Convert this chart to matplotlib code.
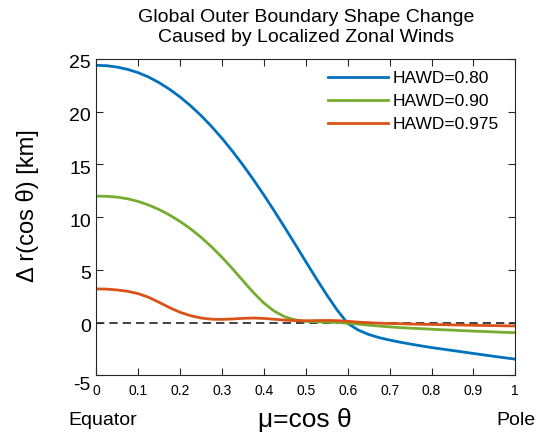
import matplotlib
matplotlib.use("Agg")
import matplotlib.pyplot as plt
import matplotlib.transforms as mtransforms
import numpy as np

plt.rcParams["font.family"] = ["Liberation Sans", "DejaVu Sans"]
plt.rcParams["axes.unicode_minus"] = False

# mu = cos(theta), sampled every 0.025 from equator (0) to pole (1)
mu = np.linspace(0.0, 1.0, 41)

hawd_labels = ["HAWD=0.80", "HAWD=0.90", "HAWD=0.975"]

dr_080 = [
    24.40, 24.36, 24.23, 24.01, 23.70, 23.28, 22.75, 22.12, 21.39, 20.56,
    19.63, 18.60, 17.47, 16.25, 14.94, 13.55, 12.09, 10.57, 9.00, 7.40,
    5.78, 4.18, 2.63, 1.18, -0.07, -0.70, -1.12, -1.42, -1.65, -1.85,
    -2.03, -2.20, -2.36, -2.50, -2.64, -2.78, -2.92, -3.06, -3.20, -3.33,
    -3.46,
]
dr_090 = [
    12.00, 11.98, 11.90, 11.74, 11.49, 11.15, 10.72, 10.20, 9.59, 8.89,
    8.09, 7.19, 6.19, 5.11, 3.97, 2.85, 1.85, 1.08, 0.55, 0.26,
    0.13, 0.08, 0.05, 0.01, -0.05, -0.14, -0.24, -0.32, -0.40, -0.47,
    -0.52, -0.57, -0.62, -0.67, -0.71, -0.76, -0.80, -0.84, -0.88, -0.92,
    -0.95,
]
dr_0975 = [
    3.20, 3.18, 3.10, 2.97, 2.75, 2.40, 1.92, 1.42, 0.98, 0.66,
    0.44, 0.33, 0.31, 0.35, 0.41, 0.44, 0.40, 0.32, 0.24, 0.19,
    0.18, 0.20, 0.21, 0.19, 0.13, 0.05, 0.00, -0.05, -0.08, -0.10,
    -0.13, -0.15, -0.17, -0.19, -0.21, -0.23, -0.25, -0.27, -0.28, -0.30,
    -0.31,
]

colors = ["#0072BD", "#77AC30", "#D95319"]

fig = plt.figure(figsize=(5.37, 4.36), dpi=100)
ax = fig.add_axes([0.1795, 0.139, 0.7801, 0.7257])

for series, label, color in zip([dr_080, dr_090, dr_0975], hawd_labels, colors):
    ax.plot(mu, series, color=color, lw=2.0, label=label)

ax.axhline(0, color="#222222", lw=1.2, ls=(0, (5, 3)), zorder=1)

ax.set_xlim(0, 1)
ax.set_ylim(-5, 25)
ax.set_xticks(np.arange(0, 1.01, 0.1))
ax.set_xticklabels(["0", "0.1", "0.2", "0.3", "0.4", "0.5", "0.6", "0.7", "0.8", "0.9", "1"])
ax.set_yticks(np.arange(-5, 26, 5))

ax.tick_params(axis="both", direction="in", top=True, right=True,
               length=5, width=0.8, color="#262626")
ax.tick_params(axis="x", labelsize=10, pad=6)
ax.tick_params(axis="y", labelsize=14, pad=4)
for spine in ax.spines.values():
    spine.set_color("#262626")
    spine.set_linewidth(0.8)

# y tick labels sit a little below their ticks; the bottom one more so
for lbl in ax.get_yticklabels():
    dy = -8 if lbl.get_text() in ("-5", "\u22125") else -3
    lbl.set_transform(lbl.get_transform()
                      + mtransforms.ScaledTranslation(0, dy / 100, fig.dpi_scale_trans))

ax.set_ylabel("\u0394 r(cos \u03b8) [km]", fontsize=17)
ax.yaxis.set_label_coords(-0.137, 0.535)
ax.set_title("Global Outer Boundary Shape Change\nCaused by Localized Zonal Winds",
             fontsize=14, linespacing=1.25, pad=12)

fig.text(0.567, 1 - 420 / 436, "\u03bc=cos \u03b8", fontsize=19, ha="center", va="center")
fig.text(68 / 537, 1 - 420 / 436, "Equator", fontsize=14, ha="left", va="center")
fig.text(496 / 537, 1 - 420 / 436, "Pole", fontsize=14, ha="left", va="center")

ax.legend(loc="upper left", bbox_to_anchor=(328 / 537, 1 - 71 / 436),
          bbox_transform=fig.transFigure, frameon=False, fontsize=12.5,
          handlelength=3.45, handletextpad=0.3, labelspacing=0.45,
          borderpad=0, borderaxespad=0)

fig.savefig("out.png", dpi=100)
